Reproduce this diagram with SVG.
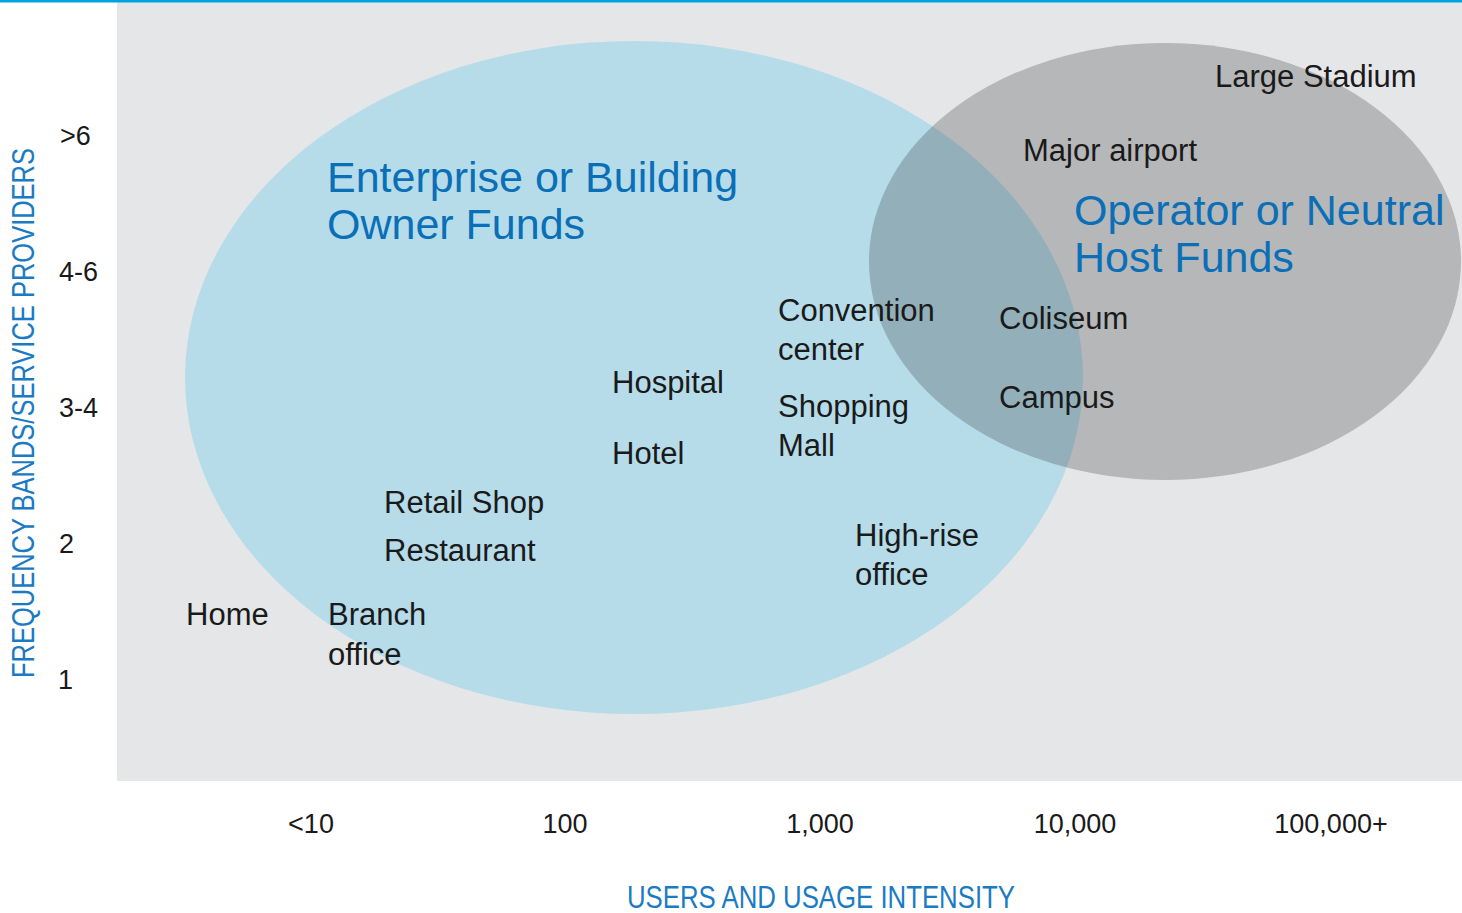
<svg xmlns="http://www.w3.org/2000/svg" width="1462" height="913" viewBox="0 0 1462 913">
  <style>
    .lbl { font-family: "Liberation Sans", Arial, sans-serif; font-size: 31px; fill: #1a1a1a; }
    .fund { font-family: "Liberation Sans", Arial, sans-serif; font-size: 43px; fill: #0a6fb7; }
    .tick { font-family: "Liberation Sans", Arial, sans-serif; font-size: 27px; fill: #1a1a1a; }
    .xtick { text-anchor: middle; }
    .axis { font-family: "Liberation Sans", Arial, sans-serif; font-size: 31px; fill: #1a7bc4; text-anchor: middle; }
  </style>

  <!-- page background -->
  <rect x="0" y="0" width="1462" height="913" fill="#ffffff"/>
  <!-- plot area -->
  <rect x="117" y="2" width="1345" height="779" fill="#e5e6e8"/>
  <!-- top rule -->
  <rect x="0" y="0" width="1462" height="2.5" fill="#00a3e0"/>

  <!-- funding regions -->
  <g id="enterprise-funds">
    <ellipse cx="634" cy="377.5" rx="449" ry="336.5" fill="#b6dcea"/>
  </g>
  <g id="operator-funds">
    <ellipse cx="1165" cy="261.5" rx="296" ry="218.5" fill="#2a2b2c" fill-opacity="0.25"/>
  </g>

  <!-- region titles -->
  <g id="enterprise-title">
    <text class="fund" x="327" y="192">Enterprise or Building</text>
    <text class="fund" x="327" y="239">Owner Funds</text>
  </g>
  <g id="operator-title">
    <text class="fund" x="1074" y="225">Operator or Neutral</text>
    <text class="fund" x="1074" y="272">Host Funds</text>
  </g>

  <!-- venues -->
  <g id="large-stadium"><text class="lbl" x="1215" y="87">Large Stadium</text></g>
  <g id="major-airport"><text class="lbl" x="1023" y="161">Major airport</text></g>
  <g id="convention-center">
    <text class="lbl" x="778" y="321">Convention</text>
    <text class="lbl" x="778" y="360">center</text>
  </g>
  <g id="coliseum"><text class="lbl" x="999" y="329">Coliseum</text></g>
  <g id="hospital"><text class="lbl" x="612" y="393">Hospital</text></g>
  <g id="shopping-mall">
    <text class="lbl" x="778" y="417">Shopping</text>
    <text class="lbl" x="778" y="456">Mall</text>
  </g>
  <g id="campus"><text class="lbl" x="999" y="408">Campus</text></g>
  <g id="hotel"><text class="lbl" x="612" y="464">Hotel</text></g>
  <g id="retail-shop"><text class="lbl" x="384" y="513">Retail Shop</text></g>
  <g id="restaurant"><text class="lbl" x="384" y="561">Restaurant</text></g>
  <g id="high-rise-office">
    <text class="lbl" x="855" y="546">High-rise</text>
    <text class="lbl" x="855" y="585">office</text>
  </g>
  <g id="home"><text class="lbl" x="186" y="625">Home</text></g>
  <g id="branch-office">
    <text class="lbl" x="328" y="625">Branch</text>
    <text class="lbl" x="328" y="665">office</text>
  </g>

  <!-- y axis -->
  <g id="y-axis">
    <text class="tick" x="60" y="145">&gt;6</text>
    <text class="tick" x="59" y="281">4-6</text>
    <text class="tick" x="59" y="417">3-4</text>
    <text class="tick" x="59" y="553">2</text>
    <text class="tick" x="58" y="689">1</text>
    <text class="axis" transform="translate(34 413) rotate(-90)" textLength="530" lengthAdjust="spacingAndGlyphs">FREQUENCY BANDS/SERVICE PROVIDERS</text>
  </g>

  <!-- x axis -->
  <g id="x-axis">
    <text class="tick xtick" x="311" y="833">&lt;10</text>
    <text class="tick xtick" x="565" y="833">100</text>
    <text class="tick xtick" x="820" y="833">1,000</text>
    <text class="tick xtick" x="1075" y="833">10,000</text>
    <text class="tick xtick" x="1331" y="833">100,000+</text>
    <text class="axis" x="821" y="908" textLength="388" lengthAdjust="spacingAndGlyphs">USERS AND USAGE INTENSITY</text>
  </g>

  <!-- no connectors in this chart -->
  <g id="connectors"/>
</svg>
